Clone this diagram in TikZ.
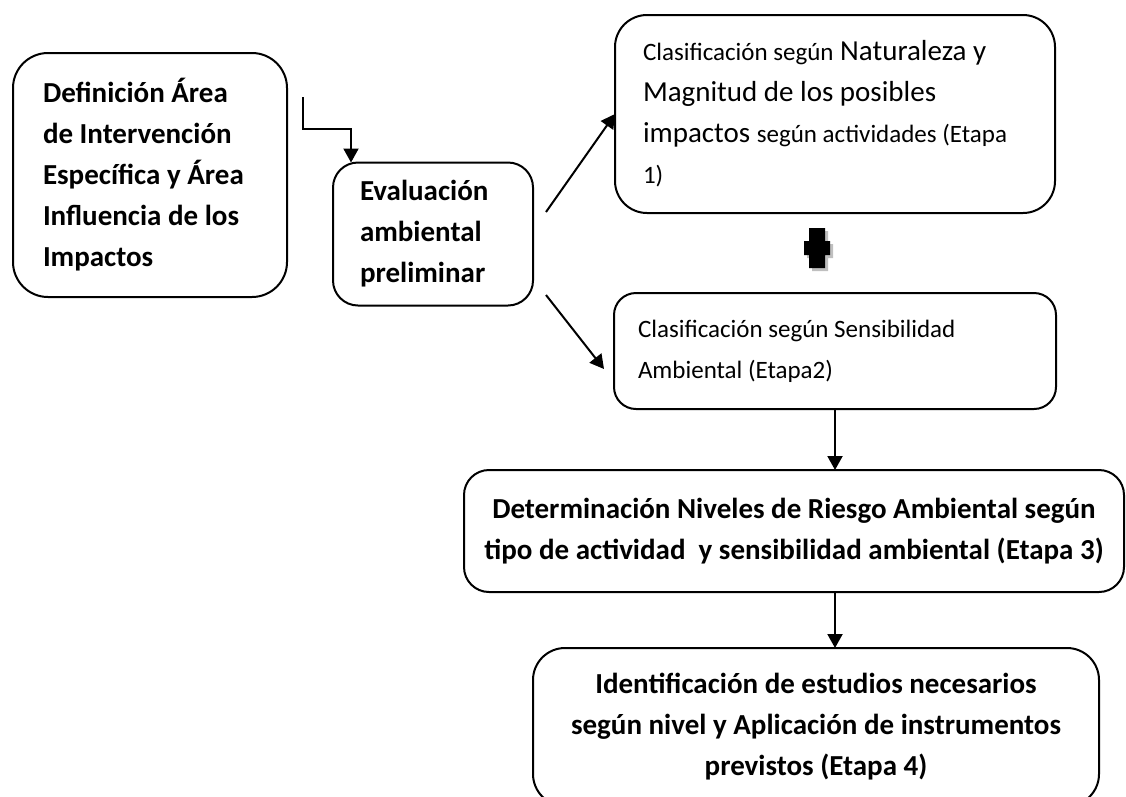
\documentclass[tikz,border=0pt]{standalone}
\usepackage{fontspec}
\setmainfont{Carlito}
\usetikzlibrary{positioning,arrows.meta}
\newcommand{\fsbig}{\fontsize{29}{41}\selectfont}
\newcommand{\fssmall}{\fontsize{25}{41}\selectfont}
\tikzset{
  box/.style={draw, line width=2pt, outer sep=0pt, inner sep=0pt},
  arr/.style={-{Triangle[length=14pt,width=15pt]}, line width=2pt}
}
\begin{document}
\begin{tikzpicture}[x=1pt,y=-1pt]
   \useasboundingbox (0,0) rectangle (1126,796);
   \node (A) [box, rounded corners=35pt, minimum width=274pt, minimum height=244pt,
              text width=214pt, align=flush left, font=\fsbig\bfseries] at (150,175)
              {Definición Área\\de Intervención\\Específica y Área\\Influencia de los\\Impactos};
   \node (B) [box, rounded corners=25pt, minimum width=200pt, minimum height=143pt,
              text width=146pt, align=flush left, font=\fsbig\bfseries,
              right=46pt of A, yshift=-59pt]
              {Evaluación\\ambiental\\preliminar};
   \node (C) [box, rounded corners=32pt, minimum width=440pt, minimum height=198pt,
              text width=384pt, align=flush left, font=\fsbig] at (835,114)
              {{\fssmall Clasificación según} Naturaleza y\\Magnitud de los posibles\\impactos {\fssmall según actividades (Etapa}\\{\fssmall 1)}};
   \node (D) [box, rounded corners=22pt, minimum width=442pt, minimum height=116pt,
              text width=394pt, align=flush left, font=\fssmall, below=80pt of C]
              {Clasificación según Sensibilidad\\Ambiental (Etapa2)};
   \node (E) [box, rounded corners=25pt, minimum width=660pt, minimum height=122pt,
              align=center, font=\fsbig\bfseries, below=61pt of D, xshift=-41pt]
              {Determinación Niveles de Riesgo Ambiental según\\tipo de actividad~ y sensibilidad ambiental (Etapa 3)};
   \node (F) [box, rounded corners=32pt, minimum width=566pt, minimum height=158pt,
              align=center, font=\fsbig\bfseries, below=56pt of E, xshift=22pt]
              {Identificación de estudios necesarios\\según nivel y Aplicación de instrumentos\\previstos (Etapa 4)};

   \coordinate (a1) at (303,97);
   \coordinate (a2) at (351,129);
   \coordinate (b1) at (546,212);
   \coordinate (b2) at (546,295);
   \coordinate (plus) at (817,248);

   \draw[arr] (a1) |- (a2) -- (a2 |- B.north);
   \path[arr]
     (b1) edge (C.west)
     (b2) edge ([xshift=-10pt,yshift=-18pt]D.west)
     (D.south) edge (D.south |- E.north)
     (D.south |- E.south) edge (D.south |- F.north);

   \fill[gray!50] ([shift={(-5,-17)}]plus) rectangle ([shift={(11,23)}]plus)
                  ([shift={(-10,-4)}]plus) rectangle ([shift={(16,10)}]plus);
   \fill ([shift={(-8,-20)}]plus) rectangle ([shift={(8,20)}]plus)
         ([shift={(-13,-7)}]plus) rectangle ([shift={(13,7)}]plus);
\end{tikzpicture}
\end{document}
